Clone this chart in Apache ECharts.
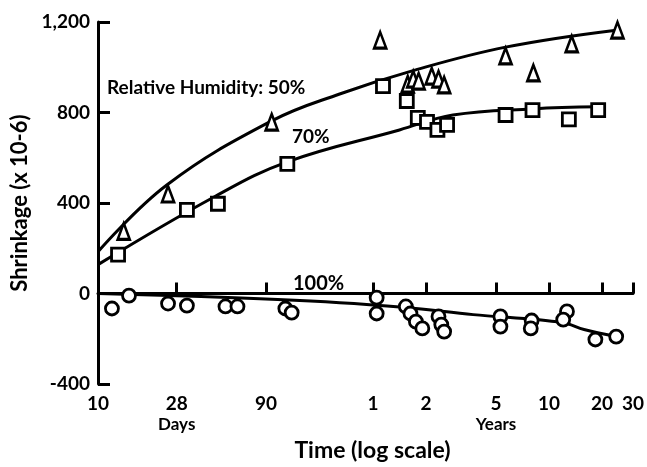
<!DOCTYPE html>
<html>
<head>
<meta charset="utf-8">
<script src="https://cdn.jsdelivr.net/npm/echarts@6/dist/echarts.min.js"></script>
<style>
  html, body { margin: 0; padding: 0; background: #fff; }
  #chart { width: 647px; height: 467px; }
</style>
</head>
<body>
<div id="chart"></div>
<script>
// ---- Data (time in days, shrinkage in x 10^-6) ----
const tickDays   = [10, 28, 90, 365, 730, 1825, 3650, 7300, 10950];
const tickLabels = ['10', '28', '90', '1', '2', '5', '10', '20', '30'];
const tickSubLabels = ['', 'Days', '', '', '', 'Years', '', '', ''];

const tri50Days = [14, 25, 97, 401, 575, 618, 663, 787, 860, 926, 2068, 2975, 4912, 8941];
const tri50Vals = [275, 440, 758, 1120, 926, 948, 939, 961, 948, 922, 1050, 975, 1103, 1164];

const sq70Days = [13, 32, 48, 119, 416, 568, 656, 740, 848, 962, 2068, 2942, 4733, 6945];
const sq70Vals = [172, 370, 397, 573, 917, 851, 776, 759, 723, 745, 789, 811, 770, 811];

const circ100Days = [12, 15, 25, 32, 53, 62, 116, 126, 383, 383, 561, 596, 640, 696, 860, 892, 926, 1933, 1933, 2908, 2875, 4617, 4396, 6696, 8790];
const circ100Vals = [-66, -9, -44, -53, -57, -57, -66, -84, -18, -88, -57, -88, -124, -154, -101, -137, -168, -101, -146, -119, -154, -79, -115, -203, -190];

const fit50Days = [10, 24.6, 97, 236, 603, 2068, 8790];
const fit50Vals = [185, 480, 763, 882, 983, 1089, 1164];

const fit70Days = [10, 45.9, 119, 516, 1038, 2942, 6945];
const fit70Vals = [128, 428, 582, 723, 789, 816, 825];

const fit100Days = [10, 38.4, 236, 561, 1353, 4341, 5771, 8790];
const fit100Vals = [0, -13, -40, -62, -93, -128, -159, -190];

const yTicks = [-400, 0, 400, 800, 1200];

// ---- helpers ----
const lg = d => Math.log10(d);
const pairs = (xs, ys) => xs.map((x, i) => [lg(x), ys[i]]);
function labelFor(v) {
  for (let i = 0; i < tickDays.length; i++) {
    if (Math.abs(lg(tickDays[i]) - v) < 1e-6) {
      const sub = tickSubLabels[i];
      return sub ? tickLabels[i] + '\n{s|' + sub + '}' : tickLabels[i];
    }
  }
  return '';
}

const FONT = 'Lato, "Noto Sans", sans-serif';
const W = 'bold';
const chart = echarts.init(document.getElementById('chart'), null, { renderer: 'canvas' });

const lineStyle = { color: '#000', width: 3 };
const markerStyle = { color: '#fff', borderColor: '#000', borderWidth: 2.8, opacity: 1 };

chart.setOption({
  animation: false,
  backgroundColor: '#fff',
  grid: { left: 98, right: 14, top: 22, bottom: 82 },
  xAxis: {
    type: 'value',
    min: lg(tickDays[0]),
    max: lg(tickDays[tickDays.length - 1]),
    splitLine: { show: false },
    axisLine: { show: true, lineStyle: { color: '#000', width: 3 } },
    axisTick: {
      show: true, inside: true, length: 11,
      customValues: tickDays.slice(1).map(lg),
      lineStyle: { color: '#000', width: 3 }
    },
    axisLabel: {
      customValues: tickDays.map(lg),
      formatter: labelFor,
      margin: 9,
      color: '#000',
      fontFamily: FONT,
      fontWeight: W,
      fontSize: 19,
      lineHeight: 21,
      rich: { s: { fontFamily: FONT, fontWeight: W, fontSize: 17, lineHeight: 20, color: '#000' } }
    },
    name: 'Time (log scale)',
    nameLocation: 'middle',
    nameGap: 43,
    nameTextStyle: { color: '#000', fontFamily: FONT, fontWeight: W, fontSize: 23, padding: [0, 0, 0, 14] }
  },
  yAxis: {
    type: 'value',
    min: -400, max: 1200, interval: 400,
    splitLine: { show: false },
    axisLine: { show: true, lineStyle: { color: '#000', width: 3 } },
    axisTick: { show: true, inside: true, length: 12, lineStyle: { color: '#000', width: 3 } },
    axisLabel: {
      margin: 8,
      color: '#000',
      fontFamily: FONT,
      fontWeight: W,
      fontSize: 19,
      formatter: v => yTicks.includes(v) ? v.toLocaleString('en-US') : ''
    },
    name: 'Shrinkage (x 10-6)',
    nameLocation: 'middle',
    nameGap: 55,
    nameTextStyle: { color: '#000', fontFamily: FONT, fontWeight: W, fontSize: 22 }
  },
  series: [
    { type: 'line', data: pairs(fit50Days, fit50Vals), smooth: 0.4, showSymbol: false, lineStyle, z: 2 },
    { type: 'line', data: pairs(fit70Days, fit70Vals), smooth: 0.4, showSymbol: false, lineStyle, z: 2 },
    { type: 'line', data: pairs(fit100Days, fit100Vals), smooth: 0.35, showSymbol: false, lineStyle, z: 2 },
    { type: 'scatter', data: pairs(tri50Days, tri50Vals), symbol: 'triangle', symbolSize: [12, 16], itemStyle: markerStyle, z: 5 },
    { type: 'scatter', data: pairs(sq70Days, sq70Vals), symbol: 'rect', symbolSize: 13, itemStyle: markerStyle, z: 5 },
    { type: 'scatter', data: pairs(circ100Days, circ100Vals), symbol: 'circle', symbolSize: 13, itemStyle: markerStyle, z: 5 }
  ],
  graphic: [
    { type: 'text', x: 107, y: 88, z: 10, style: { text: 'Relative Humidity: 50%', font: W + ' 19px ' + FONT, fill: '#000', verticalAlign: 'middle' } },
    { type: 'text', x: 292, y: 137, z: 10, style: { text: '70%', font: W + ' 19px ' + FONT, fill: '#000', verticalAlign: 'middle' } },
    { type: 'text', x: 293, y: 284, z: 10, style: { text: '100%', font: W + ' 20px ' + FONT, fill: '#000', verticalAlign: 'middle' } }
  ]
});
</script>
</body>
</html>
